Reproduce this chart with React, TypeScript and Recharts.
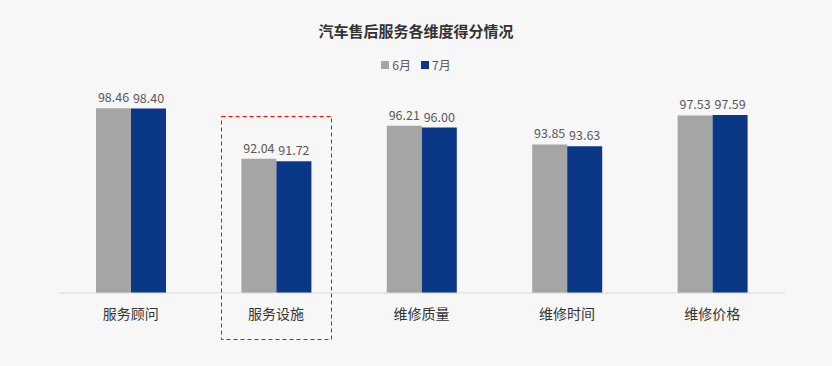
import { BarChart, Bar, XAxis, YAxis, LabelList } from 'recharts'

const categories = ['服务顾问', '服务设施', '维修质量', '维修时间', '维修价格']
const june = [98.46, 92.04, 96.21, 93.85, 97.53]
const july = [98.4, 91.72, 96.0, 93.63, 97.59]

const series = [
  { key: 'june', name: '6月', color: '#a5a5a5', values: june },
  { key: 'july', name: '7月', color: '#0b3886', values: july },
]

const data = categories.map((name, i) => ({ name, june: june[i], july: july[i] }))

const FONT = '"Noto Sans CJK SC", "Noto Sans", sans-serif'

export default function App() {
  return (
    <div style={{
      position: 'absolute', top: 0, left: 0, width: 832, height: 366,
      background: '#f7f7f7', fontFamily: FONT,
    }}>
      <div style={{
        position: 'absolute', top: 20, left: 0, width: 832, textAlign: 'center',
        fontSize: 15, fontWeight: 700, color: '#333',
      }}>
        汽车售后服务各维度得分情况
      </div>
      <div style={{
        position: 'absolute', top: 56, left: 0, width: 832,
        display: 'flex', justifyContent: 'center', gap: 10,
        fontSize: 12, color: '#595959',
      }}>
        {series.map((s) => (
          <span key={s.key} style={{ display: 'flex', alignItems: 'center', gap: 3 }}>
            <span style={{ width: 8, height: 8, background: s.color, display: 'inline-block' }} />
            {s.name}
          </span>
        ))}
      </div>
      <BarChart
        width={832}
        height={366}
        data={data}
        margin={{ top: 96, right: 47, bottom: 43, left: 58 }}
        barGap={0}
        barSize={35}
      >
        <XAxis
          dataKey="name"
          height={30}
          axisLine={{ stroke: '#d9d9d9' }}
          tickLine={false}
          tick={{ fontSize: 14, fill: '#333', fontFamily: FONT }}
          tickMargin={10}
        />
        <YAxis hide domain={[75, 100]} />
        {series.map((s) => (
          <Bar key={s.key} dataKey={s.key} name={s.name} fill={s.color} isAnimationActive={false}>
            <LabelList dataKey={s.key} position="top" offset={6} formatter={(v: number) => v.toFixed(2)}
              style={{ fontSize: 12.5, fill: '#595959', fontFamily: FONT }} />
          </Bar>
        ))}
      </BarChart>
      <svg width={832} height={366} style={{ position: 'absolute', top: 0, left: 0, pointerEvents: 'none' }}>
        <rect x={221.5} y={116.5} width={110} height={223} fill="none"
          stroke="#ff0000" strokeWidth={1} strokeDasharray="4 3" />
      </svg>
    </div>
  )
}
